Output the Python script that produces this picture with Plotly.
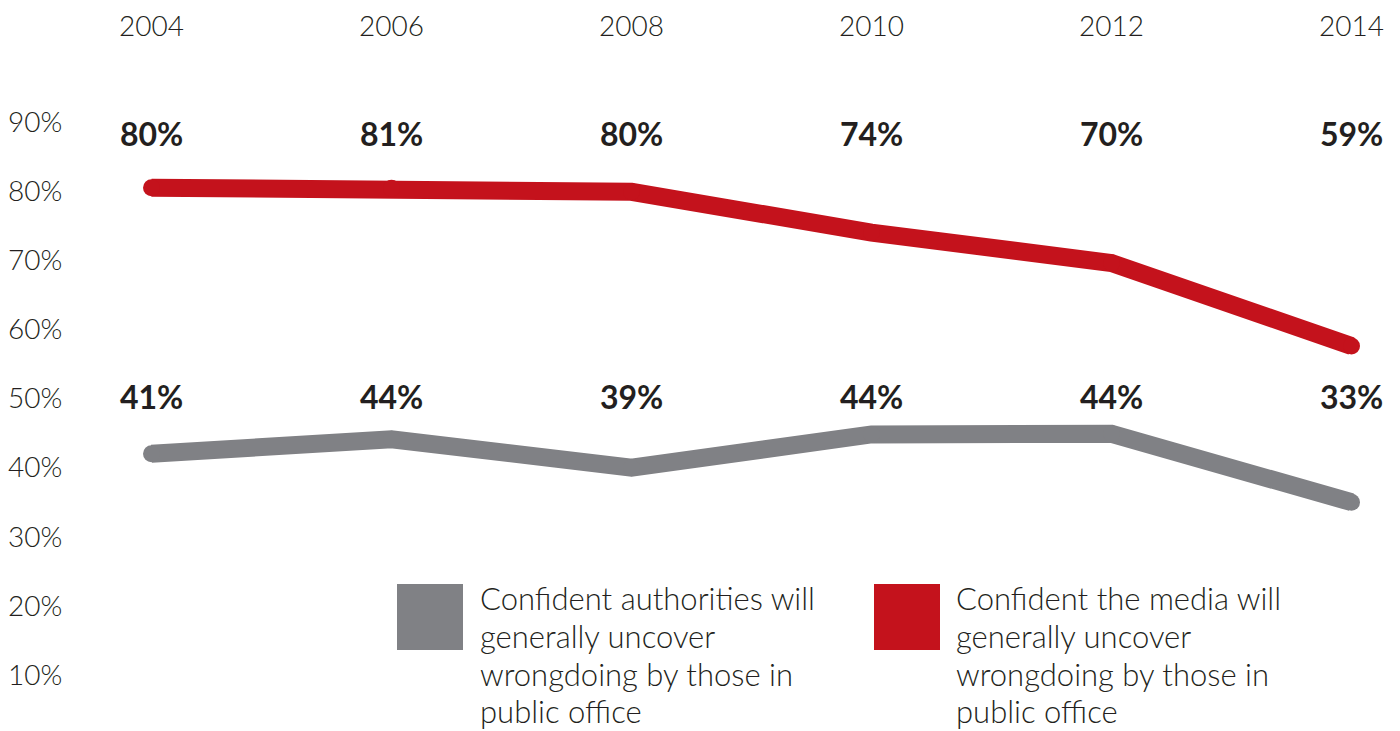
import plotly.graph_objects as go

# data
years = [2004, 2006, 2008, 2010, 2012, 2014]
media_values = [80.5, 80.4, 79.9, 74.0, 69.6, 57.6]
media_labels = ["80%", "81%", "80%", "74%", "70%", "59%"]
authority_values = [42.0, 44.1, 40.0, 44.8, 44.9, 35.0]
authority_labels = ["41%", "44%", "39%", "44%", "44%", "33%"]
y_ticks = [10, 20, 30, 40, 50, 60, 70, 80, 90]

RED = "#C4121C"
GREY = "#808185"
INK = "#231F20"
FONT = "Lato"

# the page body adds an 8px margin, so the figure is sized to fit inside it
W, H = 1392, 723
OFF = 8

fig = go.Figure()
for vals, color in [(authority_values, GREY), (media_values, RED)]:
    fig.add_trace(go.Scatter(
        x=years, y=vals, mode="lines+markers",
        line=dict(color=color, width=18),
        # markers a touch smaller than the stroke give round caps without bumps
        marker=dict(color=color, size=17, opacity=1),
        hoverinfo="skip", showlegend=False,
    ))

# bold value labels above each series
for labels, ypos in [(media_labels, 88.4), (authority_labels, 50.25)]:
    for yr, txt in zip(years, labels):
        fig.add_annotation(
            x=yr, y=ypos, text=f"<b>{txt}</b>", showarrow=False,
            xanchor="center", yanchor="middle",
            font=dict(family=FONT, size=32, color=INK),
        )

# legend drawn by hand: square swatch + one annotation per text line
legend_items = [
    (GREY, ["Confident authorities will", "generally uncover", "wrongdoing by those in", "public office"], 397, 478),
    (RED, ["Confident the media will", "generally uncover", "wrongdoing by those in", "public office"], 874, 954),
]
line_centers = [598, 636, 674, 711]
for color, lines, sx, tx in legend_items:
    fig.add_shape(
        type="rect", xref="paper", yref="paper",
        x0=(sx - OFF) / W, x1=(sx + 66 - OFF) / W,
        y0=1 - (650 - OFF) / H, y1=1 - (584 - OFF) / H,
        fillcolor=color, line_width=0, layer="below",
    )
    for txt, cy in zip(lines, line_centers):
        fig.add_annotation(
            xref="paper", yref="paper", x=(tx - OFF) / W, y=1 - (cy - OFF) / H,
            text=txt, showarrow=False, align="left",
            xanchor="left", yanchor="middle",
            font=dict(family=FONT, size=31, color=INK, weight=300),
        )

fig.update_layout(
    width=W, height=H,
    margin=dict(l=0, r=0, t=0, b=0),
    paper_bgcolor="white", plot_bgcolor="white",
    showlegend=False,
    font=dict(family=FONT, size=28, color=INK, weight=300),
    xaxis=dict(
        range=[2002.8042, 2014.4042], side="top",
        tickvals=years, ticktext=[str(y) for y in years],
        ticklabelposition="inside", ticks="",
        showgrid=False, zeroline=False, showline=False,
        ticklabelstandoff=5,
        tickfont=dict(family=FONT, size=28, color=INK, weight=300),
    ),
    yaxis=dict(
        range=[1.90, 106.49],
        tickvals=y_ticks, ticktext=[f"{v}%" for v in y_ticks],
        ticklabelposition="inside", ticks="",
        showgrid=False, zeroline=False, showline=False,
        ticklabelstandoff=-3,
        tickfont=dict(family=FONT, size=28, color=INK, weight=300),
    ),
)

fig.write_html("out.html")
